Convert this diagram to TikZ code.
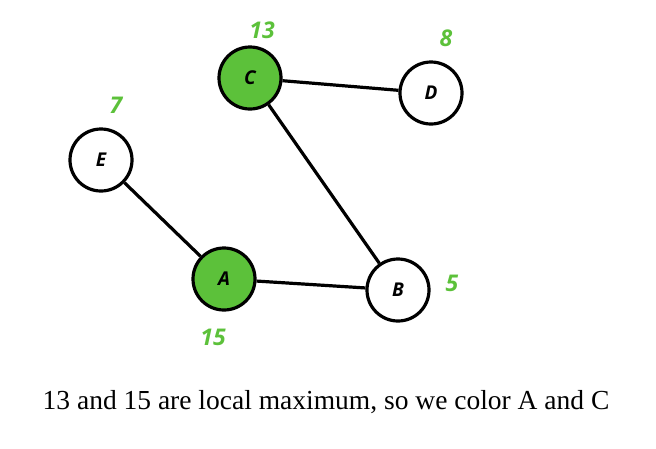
\documentclass[tikz,border=0pt]{standalone}
\usepackage{fontspec}
\setmainfont{Liberation Serif}
\newfontfamily\labfont{Open Sans}
\definecolor{gr}{HTML}{5CC13A}
\begin{document}
\begin{tikzpicture}[x=1pt,y=-1pt,
  vtx/.style={circle,draw=black,line width=3.2pt,minimum size=62pt,inner sep=0pt,font=\labfont\bfseries\itshape\fontsize{19}{19}\selectfont},
  hot/.style={vtx,fill=gr},
  cold/.style={vtx,fill=white},
  val/.style={text=gr,font=\labfont\bfseries\itshape\fontsize{23}{23}\selectfont},
  edge/.style={line width=3.2pt}]
\useasboundingbox (0,0) rectangle (656,448);
\node[hot] (C) at (250,78) {C};
\node[cold] (D) at (431,93) {D};
\node[cold] (E) at (101,160) {E};
\node[hot] (A) at (224,279) {A};
\node[cold] (B) at (398,290) {B};
\draw[edge] (C) -- (D);
\draw[edge] (C) -- (B);
\draw[edge] (E) -- (A);
\draw[edge] (A) -- (B);
\node[val] (vC) at (262,30) {13};
\node[val] (vD) at (446,38) {8};
\node[val] (vE) at (116,105) {7};
\node[val] (vB) at (452,283) {5};
\node[val] (vA) at (213,337) {15};
\node[font=\fontsize{27.5}{30}\selectfont] (cap) at (326,402) {13 and 15 are local maximum, so we color A and C};
\end{tikzpicture}
\end{document}
